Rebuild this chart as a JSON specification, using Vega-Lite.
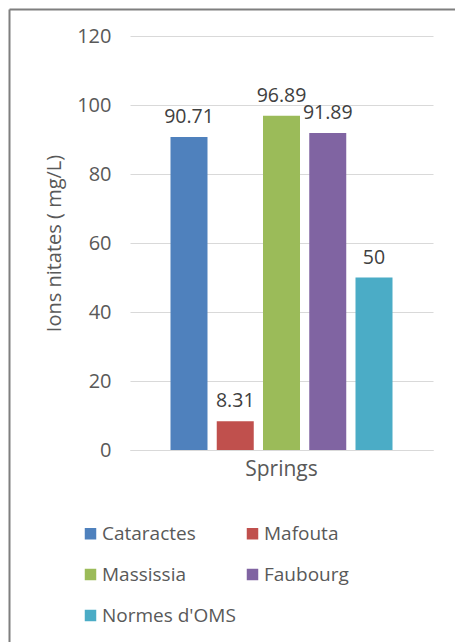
{
  "$schema": "https://vega.github.io/schema/vega-lite/v6.json",
  "width": 303,
  "height": 414,
  "autosize": {"type": "none"},
  "padding": {"left": 130, "top": 36, "right": 22, "bottom": 192},
  "background": "white",
  "data": {
    "values": [
      {"category": "Springs", "series": "Cataractes", "value": 90.71},
      {"category": "Springs", "series": "Mafouta", "value": 8.31},
      {"category": "Springs", "series": "Massissia", "value": 96.89},
      {"category": "Springs", "series": "Faubourg", "value": 91.89},
      {"category": "Springs", "series": "Normes d'OMS", "value": 50}
    ]
  },
  "layer": [
    {
      "layer": [
        {
          "mark": {"type": "bar"},
          "encoding": {
            "x": {
              "field": "category",
              "type": "nominal",
              "scale": {"paddingInner": 0, "paddingOuter": 0.1824},
              "axis": {
                "title": null,
                "labelAngle": 0,
                "ticks": false,
                "domainColor": "#d9d9d9",
                "domainWidth": 1,
                "labelFont": "Open Sans",
                "labelFontSize": 21,
                "labelColor": "#595959",
                "labelPadding": 8
              }
            },
            "xOffset": {
              "field": "series",
              "type": "nominal",
              "sort": ["Cataractes", "Mafouta", "Massissia", "Faubourg", "Normes d'OMS"],
              "scale": {"paddingInner": 0.2, "paddingOuter": 0}
            },
            "y": {
              "field": "value",
              "type": "quantitative",
              "scale": {"domain": [0, 120], "nice": false},
              "axis": {
                "title": "Ions nitates ( mg/L)",
                "values": [0, 20, 40, 60, 80, 100, 120],
                "grid": true,
                "gridColor": "#d9d9d9",
                "domain": false,
                "ticks": false,
                "labelPadding": 19,
                "labelFont": "Open Sans",
                "labelFontSize": 20,
                "labelColor": "#595959",
                "titleFont": "Open Sans",
                "titleFontSize": 20,
                "titleFontWeight": "normal",
                "titleColor": "#595959",
                "titlePadding": 12
              }
            },
            "color": {
              "field": "series",
              "type": "nominal",
              "sort": ["Cataractes", "Mafouta", "Massissia", "Faubourg", "Normes d'OMS"],
              "scale": {
                "domain": ["Cataractes", "Mafouta", "Massissia", "Faubourg", "Normes d'OMS"],
                "range": ["#4f81bd", "#c0504d", "#9bbb59", "#8064a2", "#4bacc6"]
              },
              "legend": {
                "title": null,
                "orient": "none",
                "direction": "horizontal",
                "legendX": -49,
                "legendY": 488,
                "columns": 2,
                "columnPadding": 7,
                "rowPadding": 21,
                "symbolType": "square",
                "symbolSize": 132,
                "symbolStrokeWidth": 0,
                "labelOffset": 2,
                "labelFont": "Open Sans",
                "labelFontSize": 19,
                "labelColor": "#595959"
              }
            }
          }
        },
        {
          "mark": {
            "type": "text",
            "baseline": "alphabetic",
            "dy": -14,
            "font": "Open Sans",
            "fontSize": 19.5,
            "color": "#404040"
          },
          "encoding": {
            "x": {"field": "category", "type": "nominal"},
            "xOffset": {
              "field": "series",
              "type": "nominal",
              "sort": ["Cataractes", "Mafouta", "Massissia", "Faubourg", "Normes d'OMS"]
            },
            "y": {"field": "value", "type": "quantitative"},
            "text": {"field": "value", "type": "quantitative", "format": ".2~f"}
          }
        }
      ]
    },
    {
      "mark": {"type": "point", "opacity": 0, "clip": true},
      "encoding": {
        "x": {
          "field": "value",
          "type": "quantitative",
          "scale": {"domain": [0, 1], "range": [-121, 340], "nice": false, "zero": false},
          "axis": {
            "orient": "top",
            "offset": 27,
            "domainColor": "#7f7f7f",
            "domainWidth": 2,
            "ticks": false,
            "labels": false,
            "grid": false,
            "title": null
          }
        },
        "y": {
          "field": "value",
          "type": "quantitative",
          "scale": {"domain": [0, 1], "range": [640, -27], "nice": false, "zero": false},
          "axis": {
            "orient": "left",
            "offset": 121,
            "domainColor": "#7f7f7f",
            "domainWidth": 2,
            "ticks": false,
            "labels": false,
            "grid": false,
            "title": null
          }
        }
      }
    }
  ],
  "resolve": {
    "scale": {"x": "independent", "y": "independent"},
    "axis": {"x": "independent", "y": "independent"}
  },
  "config": {
    "view": {"stroke": null}
  }
}
